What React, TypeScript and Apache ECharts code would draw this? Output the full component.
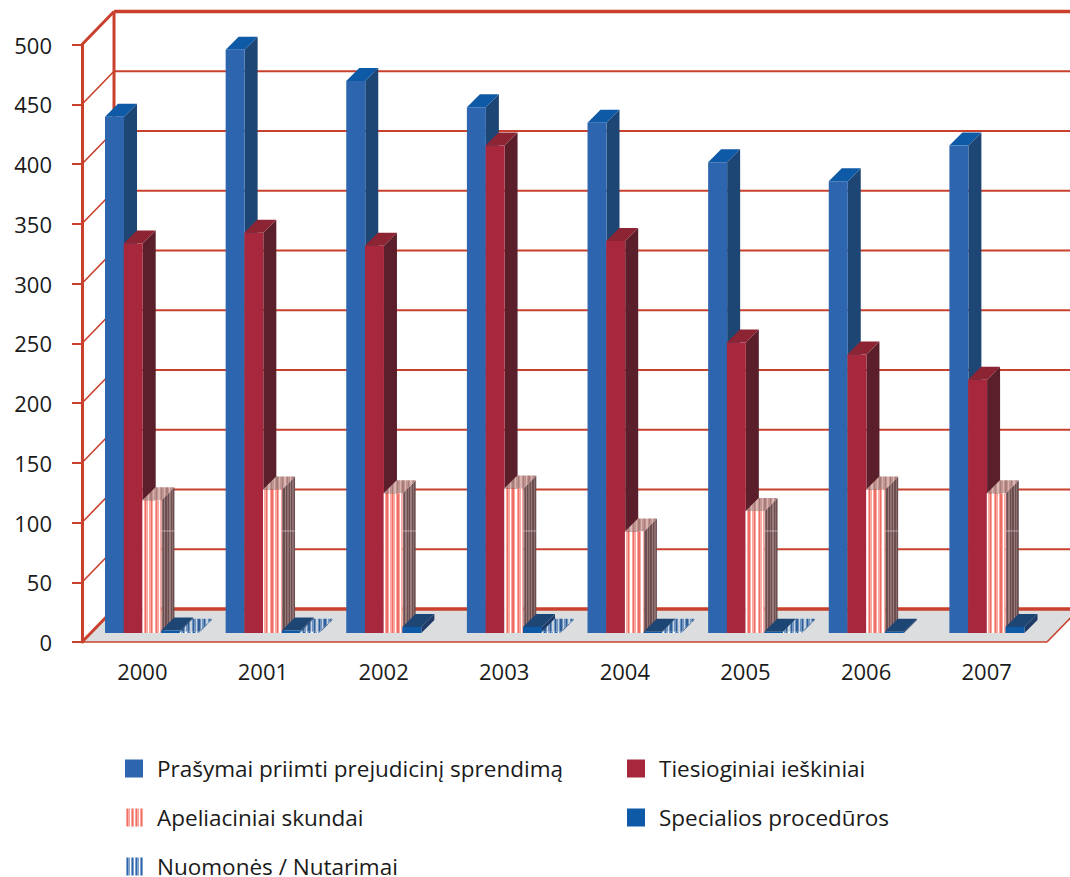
import React, { useEffect, useRef } from "react";
import * as echarts from "echarts";

const categories = ["2000", "2001", "2002", "2003", "2004", "2005", "2006", "2007"];
const prejudicial = [432, 488, 462, 440, 427, 394, 378, 408];
const direct = [326, 335, 324, 408, 328, 243, 233, 212];
const appeals = [111, 120, 117, 121, 85, 102, 120, 117];
const special = [2, 2, 5, 5, 1, 1, 1, 5];
const opinions = [1, 1, 0, 1, 1, 1, 0, 0];
const ticks = [0, 50, 100, 150, 200, 250, 300, 350, 400, 450, 500];

const FONT = "'Open Sans', sans-serif";
const RED = "#c9402c";
const DX = 32;
const DY = 33;
const BAR_DX = 13;
const BAR_DY = 13;
const BAR_W = 18.7;
const IN_Y = 9;

function stripes(a: string, b: string, c: string, n: number) {
  const stops: any[] = [];
  for (let i = 0; i < n; i++) {
    const colors = [a, b, c, b];
    const col = colors[i % 4];
    stops.push({ offset: i / n, color: col }, { offset: (i + 1) / n, color: col });
  }
  return new echarts.graphic.LinearGradient(0, 0, 1, 0, stops);
}

const solid = (front: string, top: string, side: string) => ({ front, top, side });
const styles = [
  solid("#2d66ae", "#0f5aa6", "#1e4675"),
  solid("#a7283c", "#8c2434", "#5a1f2b"),
  {
    front: stripes("#ffffff", "#f9a9a0", "#ee6e66", 14),
    top: stripes("#d9b4b0", "#c09490", "#a87c78", 24),
    side: stripes("#8c6c6c", "#6a4e50", "#9a7c7c", 10),
  },
  solid("#0f5aa6", "#1e4675", "#1e3a66"),
  {
    front: stripes("#ffffff", "#7fa3cc", "#2d66ae", 14),
    top: stripes("#c9d3df", "#6f94bf", "#2d5c96", 24),
    side: stripes("#6f94bf", "#3e628f", "#2d5c96", 6),
  },
];

const names = [
  "Prašymai priimti prejudicinį sprendimą",
  "Tiesioginiai ieškiniai",
  "Apeliaciniai skundai",
  "Specialios procedūros",
  "Nuomonės / Nutarimai",
];
const values = [prejudicial, direct, appeals, special, opinions];

const legendIcon = [
  "#2d66ae",
  "#a7283c",
  stripes("#ffffff", "#f9a9a0", "#ee6e66", 16),
  "#0f5aa6",
  stripes("#ffffff", "#7fa3cc", "#2d66ae", 16),
];
const legendPos = [
  [125, 757],
  [627, 757],
  [125, 806],
  [627, 806],
  [125, 855],
];

function barSeries(idx: number) {
  const st = styles[idx];
  return {
    type: "custom",
    name: names[idx],
    coordinateSystem: "cartesian2d",
    clip: false,
    z: 5,
    itemStyle: { color: legendIcon[idx] },
    data: categories.map((c, i) => [i, values[idx][i]]),
    renderItem: (_: any, api: any) => {
      const v = api.value(1);
      if (v <= 0) return null;
      const p0 = api.coord([api.value(0), 0]);
      const p1 = api.coord([api.value(0), v]);
      const x = p0[0] - 37.3 + idx * BAR_W;
      const yb = p0[1] - IN_Y;
      const yt = p1[1] - IN_Y;
      const w = BAR_W + 0.3;
      const children: any[] = [
        {
          type: "polygon",
          shape: {
            points: [
              [x + w, yt],
              [x + w + BAR_DX, yt - BAR_DY],
              [x + w + BAR_DX, yb - BAR_DY],
              [x + w, yb],
            ],
          },
          style: { fill: st.side },
        },
        {
          type: "polygon",
          shape: {
            points: [
              [x, yt],
              [x + BAR_DX, yt - BAR_DY],
              [x + w + BAR_DX, yt - BAR_DY],
              [x + w, yt],
            ],
          },
          style: { fill: st.top },
        },
        { type: "rect", shape: { x, y: yt, width: w, height: yb - yt }, style: { fill: st.front } },
      ];
      if (idx === 2 && v > 90) {
        const yl = p0[1] - 111;
        children.push({
          type: "line",
          shape: { x1: x + w, y1: yl, x2: x + w + BAR_DX, y2: yl },
          style: { stroke: "rgba(255,255,255,0.45)", lineWidth: 1 },
        });
      }
      return { type: "group", children };
    },
  };
}

const wallSeries = {
  type: "custom",
  coordinateSystem: "cartesian2d",
  clip: false,
  silent: true,
  z: 1,
  data: ticks.map((t) => [0, t]),
  renderItem: (_: any, api: any) => {
    const v = api.value(1);
    const p = api.coord([0, v]);
    const left = p[0] - 60.3;
    const right = left + 965;
    const thick = v === 0 || v === 500;
    const w = thick ? 3.4 : 2;
    const line = (x1: number, y1: number, x2: number, y2: number, lw: number) => ({
      type: "line",
      shape: { x1, y1, x2, y2 },
      style: { stroke: RED, lineWidth: lw },
    });
    const children: any[] = [];
    if (v === 0) {
      children.push({
        type: "polygon",
        shape: {
          points: [
            [left, p[1]],
            [right, p[1]],
            [right + DX, p[1] - DY],
            [left + DX, p[1] - DY],
          ],
        },
        style: { fill: "#dcddde" },
      });
      children.push(line(left, p[1], right, p[1], 1.6));
      children.push(line(right, p[1], right + DX, p[1] - DY, 1.6));
    }
    children.push(line(left, p[1], left + DX, p[1] - DY, thick ? 3 : 1.6));
    children.push(line(left + DX, p[1] - DY, right + DX, p[1] - DY, w));
    if (v === 500) {
      const y0 = api.coord([0, 0])[1];
      children.push(line(left + DX, y0 - DY, left + DX, p[1] - DY, 3));
    }
    return { type: "group", children };
  },
};

export default function App() {
  const ref = useRef<HTMLDivElement>(null);
  useEffect(() => {
    const chart = echarts.init(ref.current!, undefined, { renderer: "svg" });
    chart.setOption({
      animation: false,
      backgroundColor: "#ffffff",
      grid: { left: 82, top: 44.5, width: 965, height: 597.5 },
      legend: names.map((n, i) => ({
        left: legendPos[i][0],
        top: legendPos[i][1],
        itemWidth: 18,
        itemHeight: 18,
        itemGap: 0,
        padding: 0,
        selectedMode: false,
        textStyle: {
          fontFamily: FONT,
          fontSize: 22.5,
          lineHeight: 18,
          color: "#1a1a1a",
          padding: [0, 0, 0, 9],
        },
        data: [{ name: n, icon: "rect", itemStyle: { color: legendIcon[i] } }],
      })),
      xAxis: {
        type: "category",
        data: categories,
        axisLine: { show: false },
        axisTick: { show: false },
        axisLabel: { fontFamily: FONT, fontSize: 22, color: "#1a1a1a", margin: 18 },
      },
      yAxis: {
        type: "value",
        min: 0,
        max: 500,
        interval: 50,
        splitLine: { show: false },
        axisLine: { show: true, lineStyle: { color: RED, width: 3 } },
        axisTick: { show: true, length: 10, lineStyle: { color: RED, width: 2 } },
        axisLabel: { fontFamily: FONT, fontSize: 22, color: "#1a1a1a", margin: 30 },
      },
      series: [wallSeries, ...names.map((_, i) => barSeries(i))],
    } as any);
    return () => chart.dispose();
  }, []);
  return <div ref={ref} style={{ width: 1070, height: 877, position: "absolute", left: 0, top: 0 }} />;
}
